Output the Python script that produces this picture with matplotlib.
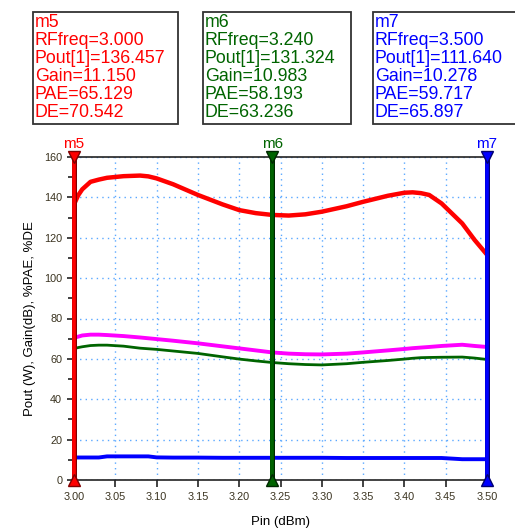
import matplotlib
matplotlib.use("Agg")
import matplotlib.pyplot as plt
import matplotlib.patheffects as pe
from matplotlib.patches import Rectangle
from matplotlib.ticker import MultipleLocator, FormatStrFormatter

plt.rcParams['font.family'] = ['Liberation Sans', 'DejaVu Sans']

# sweep points (RF freq swept, axis labelled Pin)
pin = [3.00, 3.005, 3.01, 3.02, 3.03, 3.04, 3.06, 3.08, 3.09, 3.10, 3.12, 3.15, 3.18,
       3.20, 3.22, 3.24, 3.26, 3.28, 3.30, 3.33, 3.35, 3.38, 3.40, 3.41, 3.42, 3.43,
       3.445, 3.47, 3.485, 3.50]
pout = [136.5, 141.0, 144.0, 147.7, 148.8, 149.7, 150.5, 150.8, 150.4, 149.4, 146.5, 141.2, 136.5,
        133.7, 132.2, 131.3, 131.0, 131.6, 132.9, 135.6, 137.8, 140.8, 142.3, 142.5, 142.1, 141.2,
        137.0, 127.1, 118.9, 111.6]
de = [70.5, 71.0, 71.6, 72.0, 72.0, 71.8, 71.3, 70.6, 70.2, 69.8, 69.0, 67.7, 66.2,
      65.2, 64.2, 63.2, 62.6, 62.3, 62.2, 62.6, 63.2, 64.2, 64.9, 65.3, 65.6, 65.9,
      66.4, 67.0, 66.4, 65.9]
pae = [65.1, 65.6, 66.0, 66.6, 66.8, 66.8, 66.3, 65.3, 65.0, 64.7, 63.9, 62.7, 61.0,
       59.9, 59.0, 58.2, 57.6, 57.2, 57.0, 57.6, 58.3, 59.2, 59.9, 60.3, 60.6, 60.7,
       60.8, 60.9, 60.4, 59.7]
gain = [11.15, 11.15, 11.15, 11.15, 11.15, 11.7, 11.7, 11.7, 11.7, 11.2, 11.1, 11.1, 11.0,
        11.0, 11.0, 11.0, 11.0, 11.0, 11.0, 10.9, 10.9, 10.9, 10.9, 10.9, 10.9, 10.9,
        10.9, 10.3, 10.3, 10.3]

markers = ['m5', 'm6', 'm7']
mk_freq = [3.000, 3.240, 3.500]
mk_pout = [136.457, 131.324, 111.640]
mk_gain = [11.150, 10.983, 10.278]
mk_pae = [65.129, 58.193, 59.717]
mk_de = [70.542, 63.236, 65.897]
mk_colors = ['#ff0000', '#006400', '#0000ff']
mk_dark = ['#800000', '#002800', '#000070']

W, H = 515, 531
fig = plt.figure(figsize=(W / 100, H / 100), dpi=100)
ax = fig.add_axes([74 / W, 1 - 480 / H, 413 / W, 323 / H])

ax.plot(pin, pout, color='#ff0000', lw=3.2, zorder=3)
ax.plot(pin, de, color='#ff00ff', lw=2.8, zorder=3)
ax.plot(pin, pae, color='#006400', lw=2.0, zorder=3)
ax.plot(pin, gain, color='#0000ff', lw=2.8, zorder=3)

ax.set_xlim(3.0, 3.5)
ax.set_ylim(0, 160)
ax.xaxis.set_major_locator(MultipleLocator(0.05))
ax.yaxis.set_major_locator(MultipleLocator(20))
ax.yaxis.set_minor_locator(MultipleLocator(10))
ax.grid(True, which='major', color='#5aa8ff', linestyle=(0, (1, 3)), lw=1.0)
ax.tick_params(axis='both', which='major', direction='out', length=5, width=1.2,
               labelsize=7.8, labelcolor='#3a3320', color='#222222')
ax.tick_params(axis='y', which='minor', direction='out', length=4, width=1.2, color='#222222')
ax.xaxis.set_major_formatter(FormatStrFormatter('%.2f'))
for s in ax.spines.values():
    s.set_color('#222222')
    s.set_linewidth(1.2)

ax.set_xlabel('Pin (dBm)', fontsize=9.5, labelpad=10)
ax.set_ylabel('Pout (W), Gain(dB), %PAE, %DE', fontsize=9.5, labelpad=6)

# markers and readout boxes (box pixel extents)
box_left = [33, 203, 373]
box_right = [178, 351, 516]
for i, name in enumerate(markers):
    f = mk_freq[i]
    c = mk_colors[i]
    ax.axvline(f, color=c, lw=2.6, zorder=5, clip_on=False,
               path_effects=[pe.Stroke(linewidth=3.6, foreground=mk_dark[i]), pe.Normal()])
    ax.plot([f], [160], marker='v', ms=8, color=c, mec=mk_dark[i], clip_on=False, zorder=6)
    ax.plot([f], [0], marker='^', ms=8, color=c, mec=mk_dark[i], clip_on=False, zorder=6)
    ax.text(f, 163, name, color=c, fontsize=11, ha='center', va='bottom')
    fig.patches.append(Rectangle((box_left[i] / W, 1 - 124 / H), (box_right[i] - box_left[i]) / W,
                                 112 / H, transform=fig.transFigure, fc='white',
                                 ec='#333333', lw=1.3))
    txt = (f"{name}\nRFfreq={f:.3f}\nPout[1]={mk_pout[i]:.3f}\nGain={mk_gain[i]:.3f}"
           f"\nPAE={mk_pae[i]:.3f}\nDE={mk_de[i]:.3f}")
    fig.text((box_left[i] + 2) / W, 1 - 14 / H, txt, color=c, fontsize=12.8,
             ha='left', va='top', linespacing=1.08)

fig.savefig('out.png', dpi=100)
